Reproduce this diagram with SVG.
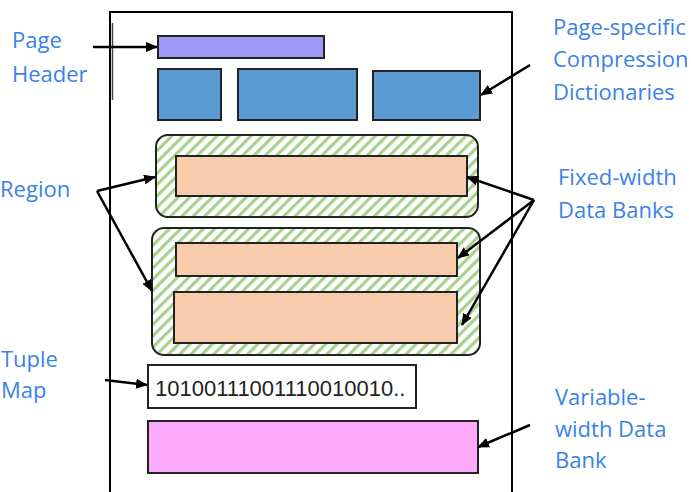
<svg xmlns="http://www.w3.org/2000/svg" width="691" height="492" viewBox="0 0 691 492">
<style>
.lbl{font-family:"Open Sans","Liberation Sans",sans-serif;font-size:22px;fill:#3b82e6}
.box{stroke:#222;stroke-width:2}
.conn{stroke:#000;stroke-width:2.5;fill:none;marker-end:url(#ah)}
</style>
<defs>
<marker id="ah" viewBox="0 0 12 10" refX="11" refY="5" markerWidth="12" markerHeight="10" markerUnits="userSpaceOnUse" orient="auto">
<path d="M0,0 L12,5 L0,10 z" fill="#000"/>
</marker>
<pattern id="hatch" patternUnits="userSpaceOnUse" width="8" height="8" patternTransform="rotate(45)">
<rect width="8" height="8" fill="#fff"/>
<rect x="0" y="0" width="3.2" height="8" fill="#a9d18e"/>
</pattern>
</defs>
<rect width="691" height="492" fill="#fff"/>
<g id="page">
<path d="M110,492 V12 H512 V492" fill="none" stroke="#000" stroke-width="2"/>
<line x1="112.5" y1="23" x2="112.5" y2="100" stroke="#444" stroke-width="1.5"/>
</g>
<g id="page-header"><rect class="box" x="158" y="36" width="166" height="22" fill="#9c99f7"/></g>
<g id="dict1"><rect class="box" x="158" y="69" width="63" height="51" fill="#5b9bd5"/></g>
<g id="dict2"><rect class="box" x="238" y="69" width="119" height="51" fill="#5b9bd5"/></g>
<g id="dict3"><rect class="box" x="373" y="71" width="107" height="49" fill="#5b9bd5"/></g>
<g id="region1">
<rect class="box" x="156" y="135" width="322" height="82" rx="12" fill="url(#hatch)"/>
<rect class="box" x="176" y="156" width="291" height="40" fill="#f8cbad"/>
</g>
<g id="region2">
<rect class="box" x="152" y="228" width="328" height="127" rx="12" fill="url(#hatch)"/>
<rect class="box" x="176" y="243" width="281" height="33" fill="#f8cbad"/>
<rect class="box" x="174" y="292" width="283" height="51" fill="#f8cbad"/>
</g>
<g id="tuple-map">
<rect class="box" x="148" y="365" width="268" height="43" fill="#fff"/>
<text x="155" y="396" font-family="Liberation Sans, Arial, sans-serif" font-size="22" fill="#222">10100111001110010010..</text>
</g>
<g id="var-bank"><rect class="box" x="148" y="421" width="330" height="52" fill="#fdaafd"/></g>
<g id="labels">
<text class="lbl" x="12" y="48">Page</text>
<text class="lbl" x="12" y="82">Header</text>
<text class="lbl" x="553" y="35">Page-specific</text>
<text class="lbl" x="553" y="67">Compression</text>
<text class="lbl" x="553" y="100">Dictionaries</text>
<text class="lbl" x="0" y="197">Region</text>
<text class="lbl" x="558" y="185">Fixed-width</text>
<text class="lbl" x="558" y="218">Data Banks</text>
<text class="lbl" x="1" y="367">Tuple</text>
<text class="lbl" x="1" y="398">Map</text>
<text class="lbl" x="555" y="405">Variable-</text>
<text class="lbl" x="555" y="437">width Data</text>
<text class="lbl" x="555" y="468">Bank</text>
</g>
<g id="connectors">
<line class="conn" x1="93" y1="47" x2="157" y2="47"/>
<line class="conn" x1="530" y1="65" x2="481" y2="95"/>
<line class="conn" x1="97" y1="191" x2="155" y2="177"/>
<line class="conn" x1="97" y1="191" x2="152" y2="291"/>
<line class="conn" x1="534" y1="200" x2="467" y2="177"/>
<line class="conn" x1="534" y1="200" x2="458" y2="258"/>
<line class="conn" x1="534" y1="200" x2="462" y2="325"/>
<line class="conn" x1="105" y1="380" x2="147" y2="385"/>
<line class="conn" x1="530" y1="425" x2="478" y2="447"/>
</g>
</svg>
